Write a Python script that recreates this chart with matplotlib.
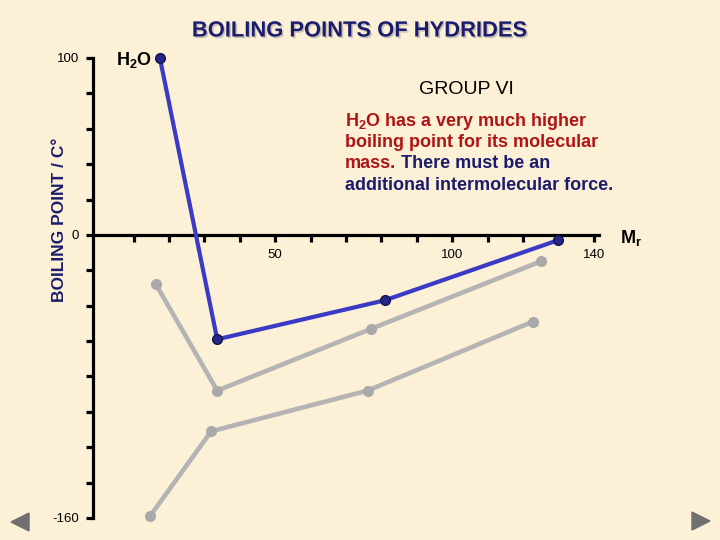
# Boiling points of the group IV, V and VI hydrides against relative
# molecular mass, drawn as the old lecture slide (parchment, nav arrows).
import matplotlib
matplotlib.use("Agg")
import matplotlib.pyplot as plt
import matplotlib.patheffects as pe
from matplotlib.patches import Polygon
from matplotlib.ticker import FixedLocator, FixedFormatter

plt.rcParams.update({"font.family": ["Liberation Sans", "DejaVu Sans"],
                     "mathtext.fontset": "custom",
                     "mathtext.default": "regular"})

# values (Mr, boiling point in C)
mr_group6 = [17.4, 33.6, 80.9, 129.9]
bp_group6 = [100, -59, -37, -3]
mr_group5 = [16.3, 33.6, 77.2, 125.0]
bp_group5 = [-28, -88, -53, -15]
mr_group4 = [14.6, 31.9, 76.1, 122.8]
bp_group4 = [-159, -111, -88, -49]

y_ticks = list(range(-160, 101, 20))
y_labels = ["-160" if v == -160 else "0" if v == 0 else "100" if v == 100 else ""
            for v in y_ticks]
x_ticks = list(range(10, 141, 10))
x_labels = [str(v) if v in (50, 100, 140) else "" for v in x_ticks]

BG = "#fcf0d7"
NAVY = "#1c1c6e"
RED = "#b01515"
BLUE = "#3a3ac4"
BLUE_DARK = "#26268a"
GREY = "#b4b4b4"

fig = plt.figure(figsize=(7.2, 5.4), dpi=100, facecolor=BG)
ax = fig.add_axes([93 / 720, 1 - 518 / 540, 506 / 720, 460 / 540])
ax.set_facecolor("none")
ax.set_xlim(-1.5, 141.5)
ax.set_ylim(-160, 100)

for mr, bp in [(mr_group4, bp_group4), (mr_group5, bp_group5)]:
    ax.plot(mr, bp, color=GREY, lw=3.3, marker="o", ms=7, mfc="#a9a9a9",
            mec="#a9a9a9", zorder=2, clip_on=False)
ax.plot(mr_group6, bp_group6, color=BLUE, lw=3, marker="o", ms=7,
        mfc=BLUE_DARK, mec="#14144a", mew=1, zorder=3, clip_on=False)

# axis frame: y spine at left, x spine through 0
for side in ("top", "right"):
    ax.spines[side].set_visible(False)
ax.spines["bottom"].set_position(("data", 0))
for side in ("left", "bottom"):
    ax.spines[side].set_linewidth(2.3)
ax.yaxis.set_major_locator(FixedLocator(y_ticks))
ax.yaxis.set_major_formatter(FixedFormatter(y_labels))
ax.xaxis.set_major_locator(FixedLocator(x_ticks))
ax.xaxis.set_major_formatter(FixedFormatter(x_labels))
ax.tick_params(direction="out", length=5, width=2.3, labelsize=9.5, pad=5)

fig.text(60 / 720, 1 - 220 / 540, "BOILING POINT / C°", rotation=90,
         ha="center", va="center", fontsize=12.5, fontweight="bold",
         color=NAVY)
fig.text(620 / 720, 1 - 238 / 540, r"M$_r$", ha="left", va="center",
         fontsize=13, fontweight="bold")
fig.text(152 / 720, 1 - 60 / 540, r"H$_2$O", ha="right", va="center",
         fontsize=13, fontweight="bold")
fig.text(466 / 720, 1 - 90 / 540, "GROUP VI", ha="center", va="center",
         fontsize=14)

title = fig.text(0.5, 1 - 31 / 540, "BOILING POINTS OF HYDRIDES",
                 ha="center", va="center", fontsize=15.8, fontweight="bold",
                 color=NAVY)
title.set_path_effects([pe.withSimplePatchShadow(offset=(1.2, -1.2),
                                                 shadow_rgbFace="#999999",
                                                 alpha=0.5)])

# note: red sentence, then navy conclusion on the same line
note = dict(fontsize=13, fontweight="bold", ha="left", va="baseline")
fig.text(345 / 720, 1 - 126 / 540, r"H$_2$O has a very much higher",
         color=RED, **note)
fig.text(345 / 720, 1 - 147 / 540, "boiling point for its molecular",
         color=RED, **note)
t_mass = fig.text(345 / 720, 1 - 168 / 540, "mass.", color=RED, **note)
ax.annotate(" There must be an", xy=(1, 0), xycoords=t_mass, color=NAVY,
            annotation_clip=False, fontsize=13, fontweight="bold",
            ha="left", va="bottom")
fig.text(345 / 720, 1 - 190 / 540, "additional intermolecular force.",
         color=NAVY, **note)

# slide navigation arrows
fig.add_artist(Polygon([(11 / 720, 1 - 522 / 540), (29 / 720, 1 - 513 / 540),
                        (29 / 720, 1 - 531 / 540)], closed=True,
                       transform=fig.transFigure, color="#707070"))
fig.add_artist(Polygon([(692 / 720, 1 - 512 / 540), (692 / 720, 1 - 530 / 540),
                        (710 / 720, 1 - 521 / 540)], closed=True,
                       transform=fig.transFigure, color="#707070"))

fig.savefig("out.png", facecolor=BG)
